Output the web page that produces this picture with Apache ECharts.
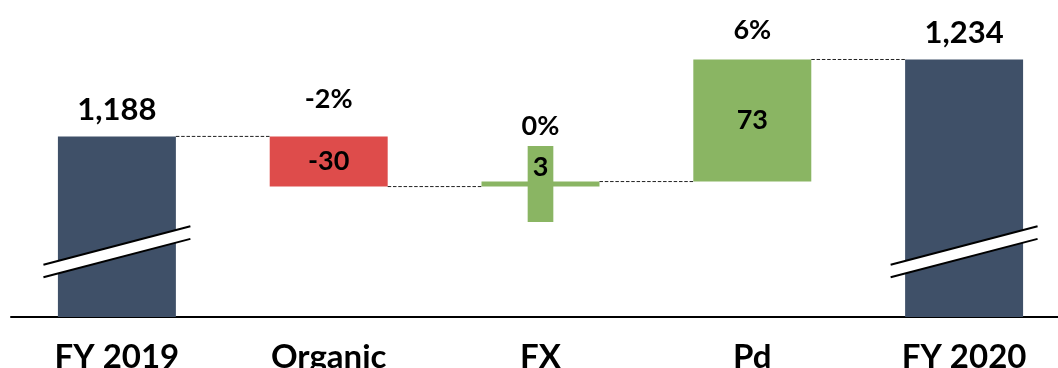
<!DOCTYPE html>
<html>
<head>
<meta charset="utf-8">
<script src="https://cdn.jsdelivr.net/npm/echarts@6/dist/echarts.min.js"></script>
<style>
  html, body { margin: 0; padding: 0; background: #fff; }
  #chart { width: 1058px; height: 368px; }
</style>
</head>
<body>
<div id="chart"></div>
<script>
// Bridge from FY 2019 to FY 2020
const categories = ['FY 2019', 'Organic', 'FX', 'Pd', 'FY 2020'];
const startTotal = 1188;
const changes = [-30, 3, 73];          // Organic, FX, Pd
const endTotal = 1234;
const changePct = ['-2%', '0%', '6%'];

const NAVY = '#3F5068';
const RED = '#DE4C4B';
const GREEN = '#8AB563';
const FONT = 'Lato';

// Build the floating segments of the waterfall
const baseVals = [0];
const barVals = [startTotal];
const levels = [startTotal];
let run = startTotal;
changes.forEach(function (c) {
  const next = run + c;
  baseVals.push(Math.min(run, next));
  barVals.push(Math.abs(c));
  run = next;
  levels.push(run);
});
baseVals.push(0);
barVals.push(endTotal);

const fmt = function (v) { return v.toLocaleString('en-US'); };
const textStyle = function (size) {
  return { color: '#000', fontFamily: FONT, fontWeight: 'bold', fontSize: size, lineHeight: size };
};

const deltaData = barVals.map(function (v, i) {
  if (i === 0 || i === categories.length - 1) {
    const total = i === 0 ? startTotal : endTotal;
    return {
      value: v,
      itemStyle: { color: NAVY },
      label: Object.assign({ show: true, position: 'top', distance: 11, formatter: fmt(total) }, textStyle(31))
    };
  }
  const c = changes[i - 1];
  const item = {
    value: v,
    itemStyle: { color: c < 0 ? RED : GREEN },
    label: Object.assign({ show: true, position: 'inside', formatter: String(c) }, textStyle(27))
  };
  if (Math.abs(c) < 10) {
    // small change: label sits at the top of a tall tab so it stays readable
    item.label.formatter = String(c) + '\n{gap| }';
    item.label.rich = { gap: { lineHeight: 33, fontSize: 10 } };
    item.label.backgroundColor = GREEN;
    item.label.padding = [8, 5, 8, 5];
  }
  return item;
});

// Zero-height caps on the change bars carry the percentage labels
const pctOffsets = [24, 42, 16];
const capData = categories.map(function (name, i) {
  if (i === 0 || i === categories.length - 1) return '-';
  return {
    value: 0,
    label: Object.assign({ show: true, position: 'top', distance: pctOffsets[i - 1], formatter: changePct[i - 1] }, textStyle(27))
  };
});

const chart = echarts.init(document.getElementById('chart'), null, { renderer: 'canvas' });

const option = {
  animation: false,
  grid: { left: 11, right: -12, top: 11, bottom: 51, containLabel: false, outerBoundsMode: 'none' },
  xAxis: {
    type: 'category',
    data: categories,
    axisLine: { lineStyle: { color: '#000', width: 2 } },
    axisTick: { show: false },
    axisLabel: { color: '#000', fontFamily: FONT, fontWeight: 'bold', fontSize: 33, lineHeight: 33, margin: 24, interval: 0 }
  },
  yAxis: {
    type: 'value',
    min: 1080,
    max: 1263,
    show: false,
    splitLine: { show: false }
  },
  series: [
    {
      name: 'base',
      type: 'bar',
      stack: 'wf',
      barWidth: '55.7%',
      itemStyle: { color: 'transparent' },
      emphasis: { disabled: true },
      data: baseVals
    },
    {
      name: 'value',
      type: 'bar',
      stack: 'wf',
      barWidth: '55.7%',
      emphasis: { disabled: true },
      data: deltaData
    },
    {
      name: 'pct',
      type: 'bar',
      stack: 'wf',
      barWidth: '55.7%',
      itemStyle: { color: 'transparent' },
      emphasis: { disabled: true },
      data: capData
    }
  ]
};

chart.setOption(option);

// Connectors between bars and axis-break marks on the total bars
function px(i, v) { return chart.convertToPixel({ xAxisIndex: 0, yAxisIndex: 0 }, [i, v]); }
const band = px(1, levels[0])[0] - px(0, levels[0])[0];
const half = band * 0.557 / 2;
const elements = [];

for (let i = 0; i < levels.length; i++) {
  const a = px(i, levels[i]);
  const b = px(i + 1, levels[i]);
  elements.push({
    type: 'line',
    z: 50,
    shape: { x1: a[0] + half, y1: a[1], x2: b[0] - half, y2: b[1] },
    style: { stroke: '#222', lineWidth: 1, lineDash: [3.5, 1.8] }
  });
}

const breakValue = 1119;
[0, categories.length - 1].forEach(function (i) {
  const c = px(i, breakValue);
  const hx = half + 14.5, dy = 19.2, gap = 6.3;
  elements.push({
    type: 'polygon',
    z: 60,
    shape: { points: [
      [c[0] - hx, c[1] + gap + dy], [c[0] + hx, c[1] + gap - dy],
      [c[0] + hx, c[1] - gap - dy], [c[0] - hx, c[1] - gap + dy]
    ] },
    style: { fill: '#fff' }
  });
  [-gap, gap].forEach(function (g) {
    elements.push({
      type: 'line',
      z: 61,
      shape: { x1: c[0] - hx, y1: c[1] + g + dy, x2: c[0] + hx, y2: c[1] + g - dy },
      style: { stroke: '#000', lineWidth: 2 }
    });
  });
});

chart.setOption({ graphic: { elements: elements } });
</script>
</body>
</html>
